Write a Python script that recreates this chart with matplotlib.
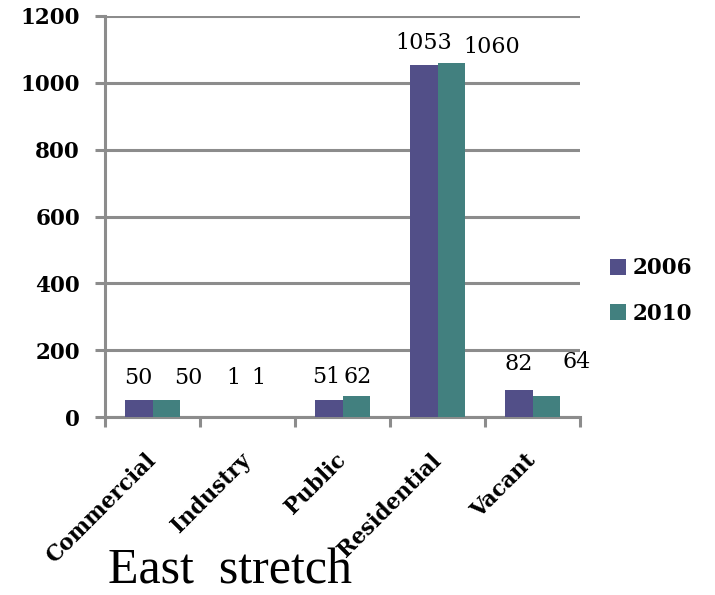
import matplotlib
matplotlib.use("Agg")
import matplotlib.pyplot as plt
import numpy as np

categories = ["Commercial", "Industry", "Public", "Residential", "Vacant"]
series_names = ["2006", "2010"]
values_2006 = [50, 1, 51, 1053, 82]
values_2010 = [50, 1, 62, 1060, 64]
y_ticks = [0, 200, 400, 600, 800, 1000, 1200]
title = "East  stretch"

colors = ["#524F88", "#42807F"]
grid_col = "#8C8C8C"
# label offsets in pixels (dx, dy) relative to bar top-centre
offs_2006 = [(0, 22), (0, 39), (-2, 23), (0, 22), (0, 26)]
offs_2010 = [(22, 22), (-3, 39), (1, 19), (40, 16), (30, 34)]

fig = plt.figure(figsize=(7.15, 5.95), dpi=100)
ax = fig.add_axes([105/715, 1-417/595, 475/715, 401/595])

x = np.arange(len(categories))
w = 0.29
b1 = ax.bar(x - w/2, values_2006, w, color=colors[0], label=series_names[0], zorder=3)
b2 = ax.bar(x + w/2, values_2010, w, color=colors[1], label=series_names[1], zorder=3)

ax.set_xlim(-0.5, len(categories) - 0.5)
ax.set_ylim(0, 1200)
ax.set_yticks(y_ticks)
ax.set_yticklabels([str(v) for v in y_ticks], fontfamily="DejaVu Serif",
                   fontweight="bold", fontsize=15.5)
ax.yaxis.grid(True, color=grid_col, linewidth=2.2, zorder=0)
ax.tick_params(axis="y", length=7, width=2.2, color=grid_col, pad=11)

ax.set_xticks(x)
ax.set_xticklabels(categories, rotation=45, ha="right", va="center",
                   rotation_mode="anchor", fontfamily="DejaVu Serif",
                   fontweight="bold", fontsize=15.5)
ax.tick_params(axis="x", which="major", length=0, pad=29)
ax.set_xticks(np.arange(len(categories) + 1) - 0.5, minor=True)
ax.tick_params(axis="x", which="minor", length=7, width=2.2, color=grid_col)

for s in ["top", "right"]:
    ax.spines[s].set_visible(False)
for s in ["left", "bottom"]:
    ax.spines[s].set_color(grid_col)
    ax.spines[s].set_linewidth(2.2)

for bars, vals, offs in [(b1, values_2006, offs_2006), (b2, values_2010, offs_2010)]:
    for bar, v, (dx, dy) in zip(bars, vals, offs):
        ax.annotate(str(v), (bar.get_x() + bar.get_width()/2, v),
                    xytext=(dx, dy), textcoords="offset pixels",
                    ha="center", va="center", fontsize=16,
                    fontfamily="DejaVu Serif")

leg = fig.legend(handles=[b1, b2], labels=series_names, loc="center left",
                 bbox_to_anchor=(610/715, 1-291/595), frameon=False,
                 prop={"family": "DejaVu Serif", "weight": "bold", "size": 15.5},
                 handlelength=0.75, handleheight=0.75, handletextpad=0.3,
                 labelspacing=1.1, borderpad=0, borderaxespad=0)

fig.text(108/715, 1-583/595, title, fontsize=36, fontfamily="Liberation Serif",
         ha="left", va="baseline")

fig.savefig("out.png", dpi=100)
